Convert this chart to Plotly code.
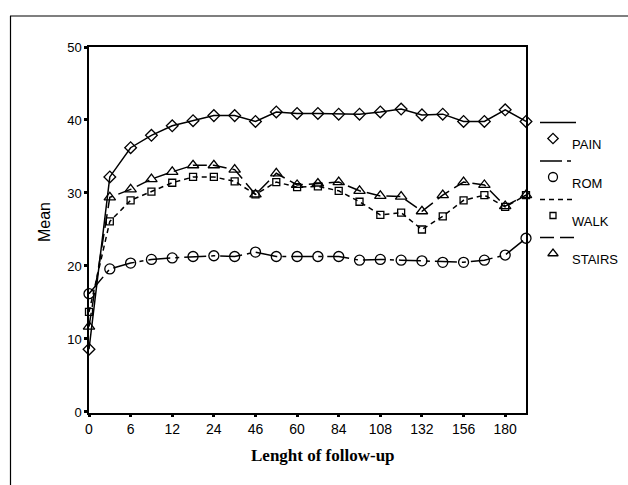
import plotly.graph_objects as go

# ---- data ----
categories = ["0", "3", "6", "9", "12", "18", "24", "36", "46", "54", "60",
              "72", "84", "96", "108", "120", "132", "144", "156", "168", "180", "192"]
tick_labels = ["0", "6", "12", "24", "46", "60", "84", "108", "132", "156", "180"]
y_ticks = [0, 10, 20, 30, 40, 50]

pain = [8.6, 32.2, 36.2, 37.9, 39.2, 39.9, 40.6, 40.6, 39.8, 41.1, 40.9,
        40.9, 40.8, 40.8, 41.1, 41.5, 40.7, 40.8, 39.8, 39.8, 41.4, 39.8]
rom = [16.2, 19.6, 20.4, 20.9, 21.1, 21.3, 21.4, 21.3, 21.9, 21.3, 21.3,
       21.3, 21.3, 20.8, 20.9, 20.8, 20.7, 20.5, 20.5, 20.8, 21.5, 23.8]
walk = [13.7, 26.1, 29.0, 30.2, 31.4, 32.2, 32.2, 31.6, 29.8, 31.5, 30.8,
        30.9, 30.3, 28.8, 27.0, 27.3, 25.0, 26.8, 29.0, 29.7, 28.1, 29.7]
stairs = [11.7, 29.4, 30.5, 31.9, 32.9, 33.8, 33.8, 33.2, 29.8, 32.7, 31.1,
          31.3, 31.5, 30.3, 29.6, 29.5, 27.5, 29.7, 31.5, 31.1, 28.2, 29.7]

series_names = ["PAIN", "ROM", "WALK", "STAIRS"]
series_values = [pain, rom, walk, stairs]

# ---- styles ----
W, H = 628, 485
styles = {
    "PAIN": dict(symbol="diamond-open", size=9, dash="solid"),
    "ROM": dict(symbol="circle-open", size=10, dash="22px,5px,4px,5px"),
    "WALK": dict(symbol="square-open", size=7, dash="5px,4px"),
    "STAIRS": dict(symbol="triangle-up-open", size=10, dash="14px,6px"),
}
font_sans = "Liberation Sans, Arial, sans-serif"

fig = go.Figure()
for name, vals in zip(series_names, series_values):
    st = styles[name]
    fig.add_trace(go.Scatter(
        x=categories, y=vals, mode="lines+markers", name=name,
        line=dict(color="black", width=1.5, dash=st["dash"]),
        marker=dict(symbol=st["symbol"], size=st["size"], color="black",
                    line=dict(color="black", width=1.3)),
        cliponaxis=False, showlegend=False,
    ))

# custom legend (drawn in a pixel-coordinate overlay subplot)
leg_line_y = [122.5, 161, 199.5, 237.5]
for i, name in enumerate(series_names):
    st = styles[name]
    ly = leg_line_y[i]
    fig.add_trace(go.Scatter(
        x=[540, 576], y=[ly, ly], mode="lines", xaxis="x2", yaxis="y2",
        line=dict(color="black", width=1.5, dash=st["dash"]),
        showlegend=False, hoverinfo="skip"))
    fig.add_trace(go.Scatter(
        x=[553], y=[ly + 16], mode="markers", xaxis="x2", yaxis="y2",
        marker=dict(symbol=st["symbol"], size=st["size"] - 1, color="black",
                    line=dict(color="black", width=1.3)),
        showlegend=False, hoverinfo="skip"))
    fig.add_annotation(x=570, y=ly + 22, xref="x2", yref="y2", text=name,
                       showarrow=False, xanchor="left", yanchor="middle",
                       font=dict(family=font_sans, size=13, color="black"))

x_l, x_r = 89, 526
y_t, y_b = 47, 412.7

fig.update_layout(
    width=W, height=H,
    margin=dict(l=0, r=0, t=0, b=0),
    paper_bgcolor="white",
    plot_bgcolor="rgba(0,0,0,0)",
    xaxis=dict(
        type="category", categoryorder="array", categoryarray=categories,
        domain=[x_l / W, x_r / W], range=[0, len(categories) - 1],
        tickvals=tick_labels, ticktext=tick_labels,
        showline=True, linecolor="black", linewidth=1.5, mirror=True,
        ticks="outside", ticklen=3, tickwidth=3, tickcolor="black",
        showgrid=False, zeroline=False, automargin=False,
        tickfont=dict(family=font_sans, size=14, color="black"),
    ),
    yaxis=dict(
        domain=[(H - y_b) / H, (H - y_t) / H], range=[-0.1, 50],
        tickvals=y_ticks,
        showline=True, linecolor="black", linewidth=1.5, mirror=True,
        ticks="outside", ticklen=3, tickwidth=3, tickcolor="black",
        showgrid=False, zeroline=False, automargin=False,
        tickfont=dict(family=font_sans, size=13, color="black"),
    ),
    xaxis2=dict(domain=[0, 1], range=[0, W], anchor="y2", visible=False, fixedrange=True),
    yaxis2=dict(domain=[0, 1], range=[H, 0], anchor="x2", visible=False, fixedrange=True),
)

# axis titles
fig.add_annotation(x=44, y=222, xref="x2", yref="y2", text="Mean", textangle=-90,
                   showarrow=False, font=dict(family=font_sans, size=16, color="black"))
fig.add_annotation(x=323, y=455, xref="x2", yref="y2", text="<b>Lenght of follow-up</b>",
                   showarrow=False,
                   font=dict(family="Liberation Serif, Times New Roman, serif", size=17, color="black"))

# outer frame (top and left edges)
fig.add_shape(type="line", xref="x2", yref="y2", x0=10, y0=16, x1=W, y1=16,
              line=dict(color="black", width=1.2))
fig.add_shape(type="line", xref="x2", yref="y2", x0=10.5, y0=16, x1=10.5, y1=H,
              line=dict(color="black", width=1.2))

fig.write_html("out.html", config={"displayModeBar": False},
               post_script="document.body.style.margin='0px';document.body.style.overflow='hidden';")
